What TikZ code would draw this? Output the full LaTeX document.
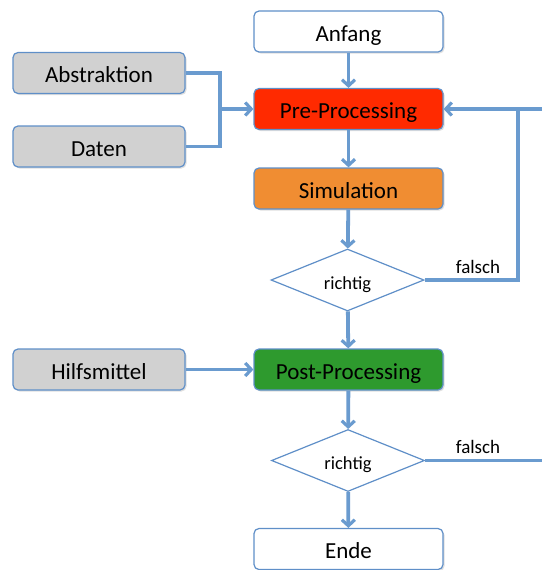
\documentclass[tikz,border=0pt]{standalone}
\usepackage{fontspec}
\setmainfont{Carlito}
\usetikzlibrary{arrows.meta,shapes.geometric,shadows}
\definecolor{lineblue}{HTML}{6A9BCF}
\definecolor{edgeblue}{HTML}{5F8FC8}
\definecolor{boxgray}{HTML}{D1D1D1}
\definecolor{boxred}{HTML}{FF2A00}
\definecolor{boxorange}{HTML}{F08D32}
\definecolor{boxgreen}{HTML}{2E9A2E}
\tikzset{
  box/.style={draw=edgeblue, line width=1.2pt, rounded corners=5pt, minimum width=189pt, minimum height=41pt, inner sep=0pt, text height=19pt, text depth=0pt, font=\fontsize{23}{26}\selectfont, drop shadow={opacity=0.25, shadow xshift=1.5pt, shadow yshift=-1.5pt}},
  sidebox/.style={box, fill=boxgray, minimum width=172pt},
  decision/.style={draw=edgeblue, line width=1.2pt, diamond, aspect=2.47, minimum width=153pt, minimum height=62pt, inner sep=0pt, text height=18pt, text depth=0pt, fill=white, font=\fontsize{18.5}{21}\selectfont},
  conn/.style={draw=lineblue, line width=3.8pt},
  flow/.style={conn, -{Straight Barb[length=6pt,width=13pt,line width=3.2pt]}},
  lbl/.style={font=\fontsize{19}{22}\selectfont, inner sep=0pt, anchor=base}
}
\begin{document}
\begin{tikzpicture}[x=1pt,y=-1pt]
\useasboundingbox (0,0) rectangle (542,570);
\node[box, fill=white] (anfang) at (348.5,31.5) {Anfang};
\node[box, fill=boxred] (pre) at (348.5,109) {Pre-Processing};
\node[box, fill=boxorange] (sim) at (348.5,188.5) {Simulation};
\node[decision] (d1) at (347.5,280) {richtig};
\node[box, fill=boxgreen] (post) at (348.5,369.5) {Post-Processing};
\node[decision] (d2) at (348,460.5) {richtig};
\node[box, fill=white] (ende) at (348.5,549) {Ende};
\node[sidebox] (abs) at (99,73) {Abstraktion};
\node[sidebox] (daten) at (99,146.5) {Daten};
\node[sidebox] (hilf) at (99,369.5) {Hilfsmittel};
\coordinate (j) at (220,109);
\coordinate (r1) at (518,280);
\coordinate (r1top) at (518,109);
\coordinate (redge) at (542,109);
\coordinate (r2) at (542,460.5);
\draw[flow] (anfang) -- (pre);
\draw[flow] (pre) -- (sim);
\draw[flow] (sim) -- (d1);
\draw[flow] (d1) -- (post);
\draw[flow] (post) -- (d2);
\draw[flow] (d2) -- (ende);
\draw[conn] (abs.east) -| (j) |- (daten.east);
\draw[flow] (j) -- (pre.west);
\draw[flow] (hilf) -- (post);
\draw[conn] (d1.east) -- (r1) -- (r1top);
\draw[flow] (redge) -- (pre.east);
\draw[conn] (d2.east) -- (r2);
\node[lbl] (f1) at (478,273) {falsch};
\node[lbl] (f2) at (478,453) {falsch};
\end{tikzpicture}
\end{document}
